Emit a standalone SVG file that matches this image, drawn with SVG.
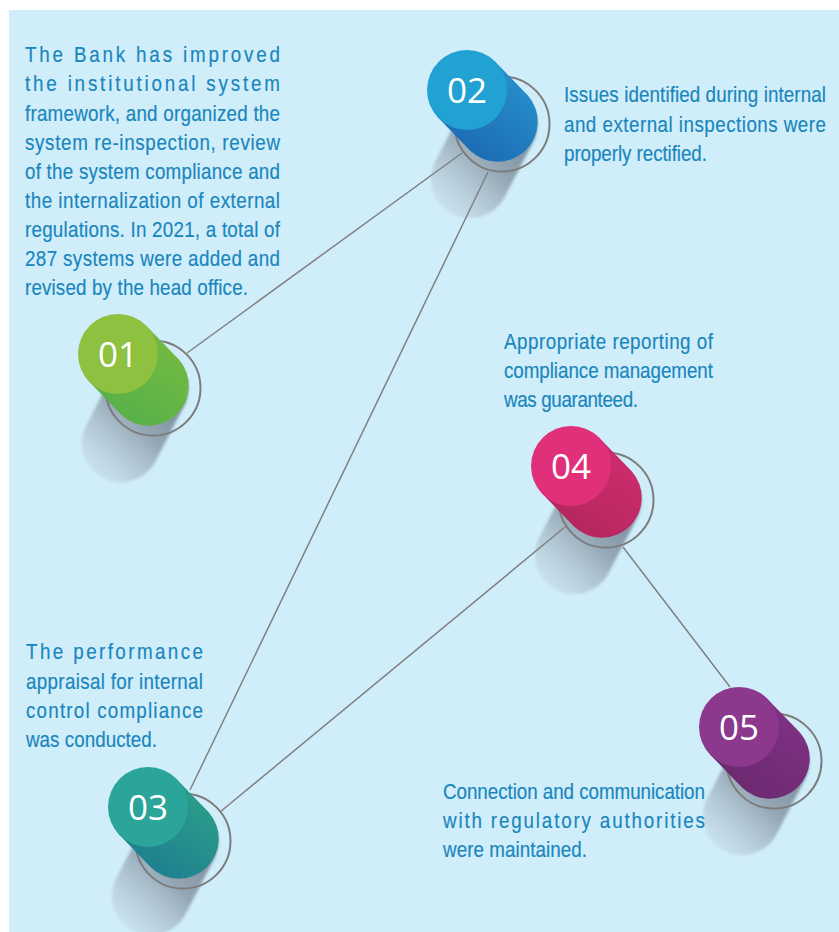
<svg xmlns="http://www.w3.org/2000/svg" xmlns:xlink="http://www.w3.org/1999/xlink" width="839" height="932" viewBox="0 0 839 932">
  <style>
    .txt { font-family: "Liberation Sans", Arial, sans-serif; font-size: 22px; fill: #1a86bd; stroke: #1a86bd; stroke-width: 0.2; }
    .num { font-family: "Open Sans", "Noto Sans", sans-serif; font-size: 35px; fill: #ffffff; text-anchor: middle; }
    .ring { fill: none; stroke: #7c7c7c; stroke-width: 2; }
    .link { stroke: #808080; stroke-width: 1.5; fill: none; }
  </style>
  <defs>
    <filter id="soft" x="-30%" y="-30%" width="160%" height="160%">
      <feGaussianBlur stdDeviation="1.8"/>
    </filter>
    <linearGradient id="shadeGrad" x1="0.85" y1="0.1" x2="0.15" y2="1">
      <stop offset="0" stop-color="#6f8091" stop-opacity="1"/>
      <stop offset="0.5" stop-color="#92a3b1" stop-opacity="0.95"/>
      <stop offset="1" stop-color="#c3d7e3" stop-opacity="0.45"/>
    </linearGradient>
    <linearGradient id="body01" x1="1" y1="0" x2="0.35" y2="0.9">
      <stop offset="0" stop-color="#7cbd40"/>
      <stop offset="1" stop-color="#58b148"/>
    </linearGradient>
    <linearGradient id="body02" x1="1" y1="0" x2="0.35" y2="0.9">
      <stop offset="0" stop-color="#2a9bd1"/>
      <stop offset="1" stop-color="#1c6cb5"/>
    </linearGradient>
    <linearGradient id="body03" x1="1" y1="0" x2="0.35" y2="0.9">
      <stop offset="0" stop-color="#30a887"/>
      <stop offset="1" stop-color="#1e8090"/>
    </linearGradient>
    <linearGradient id="body04" x1="1" y1="0" x2="0.35" y2="0.9">
      <stop offset="0" stop-color="#d62d72"/>
      <stop offset="1" stop-color="#b5275e"/>
    </linearGradient>
    <linearGradient id="body05" x1="1" y1="0" x2="0.35" y2="0.9">
      <stop offset="0" stop-color="#853389"/>
      <stop offset="1" stop-color="#6c2a70"/>
    </linearGradient>
    <!-- cast shadow falling down-left from the pin -->
    <path id="shadow" d="M -2.6,15.1 L -32.6,73.1 A39,39 0 0 0 36.6,108.9 L 66.6,50.9 A39,39 0 0 0 -2.6,15.1 Z"/>
    <!-- pin body: capsule from the front disc to the back disc -->
    <path id="capsule" d="M 28.7,-27.8 L 60.7,5.2 A40,40 0 0 1 3.3,60.8 L -28.7,27.8 A40,40 0 0 1 28.7,-27.8 Z"/>
  </defs>

  <rect x="9" y="10" width="830" height="922" fill="#d0eefa"/>

  <g id="node-01" transform="translate(118,354)">
    <use xlink:href="#shadow" fill="url(#shadeGrad)" filter="url(#soft)"/>
    <circle class="ring" cx="35" cy="34" r="47.5"/>
    <use xlink:href="#capsule" fill="url(#body01)"/>
    <circle r="40" fill="#8dc13f"/>
    <text class="num" y="12.5">01</text>
  </g>

  <g id="node-02" transform="translate(467,90)">
    <use xlink:href="#shadow" fill="url(#shadeGrad)" filter="url(#soft)"/>
    <circle class="ring" cx="35" cy="34" r="47.5"/>
    <use xlink:href="#capsule" fill="url(#body02)"/>
    <circle r="40" fill="#22a2d2"/>
    <text class="num" y="12.5">02</text>
  </g>

  <g id="node-03" transform="translate(148,807)">
    <use xlink:href="#shadow" fill="url(#shadeGrad)" filter="url(#soft)"/>
    <circle class="ring" cx="35" cy="34" r="47.5"/>
    <use xlink:href="#capsule" fill="url(#body03)"/>
    <circle r="40" fill="#2ba59a"/>
    <text class="num" y="12.5">03</text>
  </g>

  <g id="node-04" transform="translate(571,466)">
    <use xlink:href="#shadow" fill="url(#shadeGrad)" filter="url(#soft)"/>
    <circle class="ring" cx="35" cy="34" r="47.5"/>
    <use xlink:href="#capsule" fill="url(#body04)"/>
    <circle r="40" fill="#e1307a"/>
    <text class="num" y="12.5">04</text>
  </g>

  <g id="node-05" transform="translate(739,727)">
    <use xlink:href="#shadow" fill="url(#shadeGrad)" filter="url(#soft)"/>
    <circle class="ring" cx="35" cy="34" r="47.5"/>
    <use xlink:href="#capsule" fill="url(#body05)"/>
    <circle r="40" fill="#8b388d"/>
    <text class="num" y="12.5">05</text>
  </g>

  <g id="connectors">
    <line class="link" x1="187" y1="353" x2="462" y2="153"/>
    <line class="link" x1="488" y1="172" x2="190" y2="790"/>
    <line class="link" x1="220" y1="812" x2="565" y2="527"/>
    <line class="link" x1="623" y1="547" x2="730" y2="687"/>
  </g>

  <!-- body copy: horizontally condensed sans, each line justified to its column -->
  <g id="text-01" class="txt" transform="scale(0.855,1)">
    <text x="29.24" y="62" textLength="298.25" lengthAdjust="spacing">The Bank has improved</text>
    <text x="29.24" y="91" textLength="298.25" lengthAdjust="spacing">the institutional system</text>
    <text x="29.24" y="121" textLength="298.25" lengthAdjust="spacing">framework, and organized the</text>
    <text x="29.24" y="150" textLength="298.25" lengthAdjust="spacing">system re-inspection, review</text>
    <text x="29.24" y="179" textLength="298.25" lengthAdjust="spacing">of the system compliance and</text>
    <text x="29.24" y="208" textLength="298.25" lengthAdjust="spacing">the internalization of external</text>
    <text x="29.24" y="237" textLength="298.25" lengthAdjust="spacing">regulations. In 2021, a total of</text>
    <text x="29.24" y="266" textLength="298.25" lengthAdjust="spacing">287 systems were added and</text>
    <text x="29.24" y="295" textLength="260.82" lengthAdjust="spacing">revised by the head office.</text>
  </g>

  <g id="text-02" class="txt" transform="scale(0.855,1)">
    <text x="659.65" y="102" textLength="306.43" lengthAdjust="spacing">Issues identified during internal</text>
    <text x="659.65" y="132" textLength="306.43" lengthAdjust="spacing">and external inspections were</text>
    <text x="659.65" y="161" textLength="167.25" lengthAdjust="spacing">properly rectified.</text>
  </g>

  <g id="text-04" class="txt" transform="scale(0.855,1)">
    <text x="589.47" y="349" textLength="244.44" lengthAdjust="spacing">Appropriate reporting of</text>
    <text x="589.47" y="378" textLength="244.44" lengthAdjust="spacing">compliance management</text>
    <text x="589.47" y="407" textLength="156.73" lengthAdjust="spacing">was guaranteed.</text>
  </g>

  <g id="text-03" class="txt" transform="scale(0.855,1)">
    <text x="30.41" y="659" textLength="207.02" lengthAdjust="spacing">The performance</text>
    <text x="30.41" y="689" textLength="207.02" lengthAdjust="spacing">appraisal for internal</text>
    <text x="30.41" y="718" textLength="207.02" lengthAdjust="spacing">control compliance</text>
    <text x="30.41" y="747" textLength="153.22" lengthAdjust="spacing">was conducted.</text>
  </g>

  <g id="text-05" class="txt" transform="scale(0.855,1)">
    <text x="518.13" y="799" textLength="306.43" lengthAdjust="spacing">Connection and communication</text>
    <text x="518.13" y="828" textLength="306.43" lengthAdjust="spacing">with regulatory authorities</text>
    <text x="518.13" y="857" textLength="168.42" lengthAdjust="spacing">were maintained.</text>
  </g>
</svg>
